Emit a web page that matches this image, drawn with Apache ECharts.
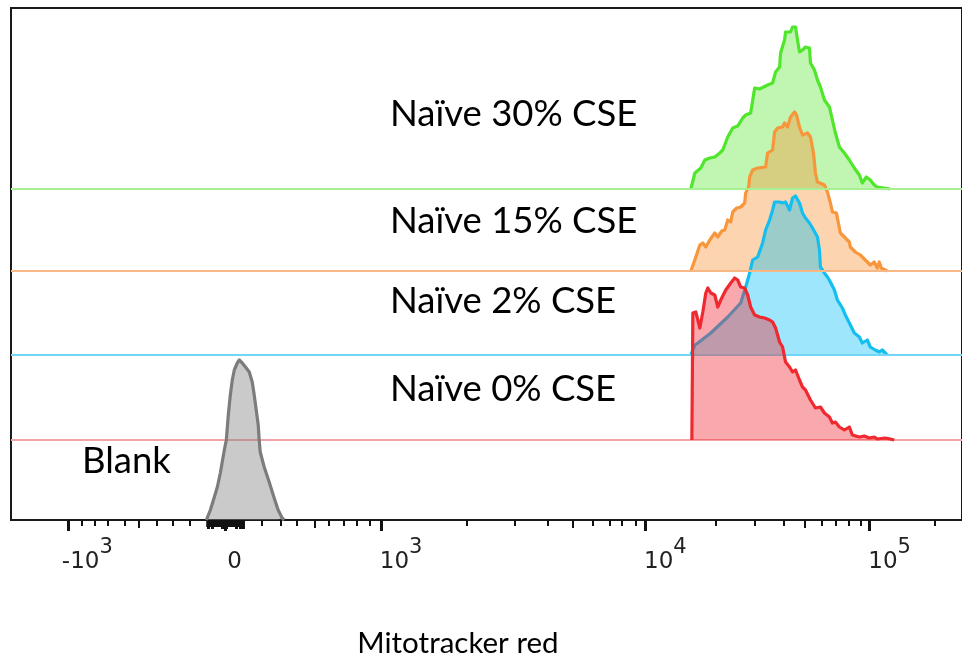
<!DOCTYPE html>
<html><head><meta charset="utf-8">
<script src="https://cdn.jsdelivr.net/npm/echarts@6/dist/echarts.min.js"></script>
<style>html,body{margin:0;padding:0;background:#fff}#c{width:962px;height:662px}</style>
</head><body><div id="c"></div>
<script>
// x = display channel of the biexponential scale, y = event count (normalized histograms)
const seriesNames = ['Naïve 30% CSE', 'Naïve 15% CSE', 'Naïve 2% CSE', 'Naïve 0% CSE', 'Blank'];

const naive30 = [[682,0],[686,16],[692,21],[696,29],[701,31],[706,32],[711,36],[714,39],[719,52],[724,61],[729,63],[734,71],[737,74],[742,76],[746,101],[751,100],[759,104],[764,106],[767,117],[771,122],[772,136],[776,149],[777,157],[782,157],[784,162],[787,162],[789,149],[791,137],[794,139],[797,142],[801,141],[802,126],[806,119],[809,109],[812,102],[816,89],[821,82],[824,69],[827,56],[831,42],[836,36],[841,29],[846,21],[851,14],[854,6],[858,12],[862,9],[866,4],[869,2],[882,0]];

const naive15 = [[682,0],[686,11],[691,26],[694,28],[697,24],[701,31],[706,38],[709,34],[713,40],[716,41],[719,51],[722,49],[724,59],[728,63],[732,64],[736,68],[737,78],[740,84],[741,94],[744,101],[749,103],[757,104],[759,118],[764,121],[766,139],[769,143],[774,144],[776,148],[779,144],[782,154],[786,159],[788,156],[791,144],[794,136],[799,138],[802,134],[805,118],[807,98],[809,89],[816,86],[819,79],[821,78],[822,68],[824,59],[828,58],[832,38],[837,33],[841,29],[842,24],[847,19],[852,16],[857,11],[862,6],[866,9],[869,3],[871,9],[873,3],[879,0]];

const naive2 = [[682,0],[686,10],[689,12],[702,22],[719,38],[732,52],[737,68],[739,75],[741,82],[744,95],[749,98],[754,112],[757,125],[761,135],[764,145],[766,153],[771,153],[774,152],[777,153],[781,145],[784,157],[787,159],[791,152],[794,142],[797,137],[801,132],[804,127],[806,128],[809,118],[811,105],[812,88],[816,82],[819,78],[822,73],[826,65],[829,55],[834,47],[837,40],[841,32],[846,22],[851,18],[854,12],[859,15],[862,8],[867,5],[871,3],[874,5],[879,0]];

const naive0 = [[683,0],[684,127],[687,128],[691,112],[694,128],[697,147],[699,152],[702,147],[706,145],[709,133],[712,140],[717,150],[722,157],[726,162],[729,160],[732,153],[736,152],[739,145],[742,133],[746,125],[751,123],[756,122],[761,120],[764,118],[767,112],[771,98],[774,93],[777,78],[781,73],[784,68],[787,70],[791,60],[794,53],[797,50],[802,40],[807,32],[812,33],[816,27],[821,23],[824,17],[827,18],[831,13],[836,10],[841,13],[844,5],[851,3],[856,4],[861,2],[866,3],[869,1],[877,2],[882,1],[886,0]];

const blank = [[196,0],[200,10],[204,23],[207,33],[210,47],[214,70],[216,80],[218,105],[220,125],[222,140],[224,150],[227,157],[229,160],[232,157],[236,152],[239,148],[242,138],[244,125],[246,110],[248,95],[249,80],[250,68],[254,53],[259,38],[264,22],[268,10],[272,2],[274,0]];

// axis ticks (display channels) and tick labels
const majorTicks = [57, 215, 371, 636, 861];
const tickBase = ['-10', '0', '10', '10', '10'];
const tickExp = ['3', '', '3', '4', '5'];
const minorTicks = [71, 84, 97, 114, 146, 162, 179, 252, 271, 287, 319, 334, 347, 360, 457, 505, 538, 584, 601, 613, 627, 707, 746, 775, 813, 827, 840, 852, 927];
const midTicks = [128, 305, 564, 796];
const zeroClusterTicks = [197, 199, 201, 203, 205, 207, 209, 211, 213, 217, 219, 221, 223, 225, 227, 229, 231, 233];
const zeroClusterLong = [198, 202, 212, 216, 226, 230, 233];
const axisTitle = 'Mitotracker red';

// ---- layout / style ----
const X_MAX = 954, Y_MAX = 512;
const offsets = [331, 249, 165, 80, 0];
const labelShift = [-6, 2, -1, -1, -1];
const lineColors = ['#4fe62c', '#f7963b', '#14bff0', '#f0282f', '#7c7c7c'];
const fillColors = ['rgba(80,230,40,0.36)', 'rgba(247,150,58,0.40)', 'rgba(0,190,245,0.38)', 'rgba(240,40,50,0.40)', 'rgba(128,128,128,0.42)'];
const baseColors = ['#a6ef92', '#f8b886', '#72d6f6', '#f5a2a4', null];
const textPos = [[390, 114.5], [390, 221], [390, 301], [390, 389], [82, 461]];
const dataSets = [naive30, naive15, naive2, naive0, blank];

const labelPos = majorTicks.map((t, i) => t + labelShift[i]);

const series = dataSets.map((d, i) => {
  const off = offsets[i];
  const s = {
    name: seriesNames[i],
    type: 'line',
    xAxisIndex: 0,
    yAxisIndex: 0,
    data: d.map(p => [p[0], p[1] + off]),
    showSymbol: false,
    symbol: 'none',
    smooth: false,
    silent: true,
    lineStyle: { color: lineColors[i], width: 3.2, join: 'round' },
    areaStyle: { color: fillColors[i], origin: off, opacity: 1 },
    z: 2 + i
  };
  if (baseColors[i]) {
    s.markLine = {
      silent: true,
      symbol: ['none', 'none'],
      label: { show: false },
      animation: false,
      lineStyle: { color: baseColors[i], width: 2, type: 'solid' },
      data: [{ yAxis: off }]
    };
  }
  return s;
});

const commonX = {
  type: 'value', min: 0, max: X_MAX, gridIndex: 0, position: 'bottom',
  axisLine: { show: false, onZero: false }, splitLine: { show: false }
};
function tickAxis(values, len, width) {
  return Object.assign({}, commonX, {
    axisTick: { show: true, customValues: values, length: len, lineStyle: { color: '#111', width: width } },
    axisLabel: { show: false }
  });
}

const option = {
  animation: false,
  backgroundColor: '#ffffff',
  grid: { left: 11, right: -3, top: 8, bottom: 142, show: true, borderColor: '#1a1a1a', borderWidth: 2, backgroundColor: 'transparent' },
  xAxis: [
    Object.assign({}, commonX, {
      axisTick: { show: true, customValues: majorTicks, length: 11, lineStyle: { color: '#111', width: 3 } },
      axisLabel: {
        show: true, customValues: labelPos, align: 'left', margin: 17.5,
        fontSize: 23, fontFamily: 'DejaVu Sans', color: '#222',
        formatter: v => {
          const i = labelPos.findIndex(p => Math.abs(p - v) < 0.01);
          if (i < 0) return '';
          return '{b|' + tickBase[i] + '}{s|' + (tickExp[i] || '\u00a0') + '}';
        },
        rich: {
          b: { fontFamily: 'DejaVu Sans', fontSize: 23, color: '#222', lineHeight: 23, verticalAlign: 'bottom' },
          s: { fontFamily: 'DejaVu Sans', fontSize: 21, color: '#222', lineHeight: 36, verticalAlign: 'top' }
        }
      }
    }),
    tickAxis(minorTicks, 6, 2),
    tickAxis(midTicks, 8, 2),
    tickAxis(zeroClusterTicks, 7, 2.5),
    tickAxis(zeroClusterLong, 9, 3)
  ],
  yAxis: [{ type: 'value', min: 0, max: Y_MAX, show: false, splitLine: { show: false } }],
  series: series,
  graphic: seriesNames.map((n, i) => ({
    type: 'text', x: textPos[i][0], y: textPos[i][1], z: 100,
    style: { text: n, font: '36.5px Lato', fill: '#000', align: 'left', verticalAlign: 'middle' }
  })).concat([{
    type: 'text', x: 458, y: 643, z: 100,
    style: { text: axisTitle, font: '29.5px Lato', fill: '#000', align: 'center', verticalAlign: 'middle' }
  }])
};

const chart = echarts.init(document.getElementById('c'), null, { renderer: 'canvas' });
chart.setOption(option);
</script>
</body></html>
